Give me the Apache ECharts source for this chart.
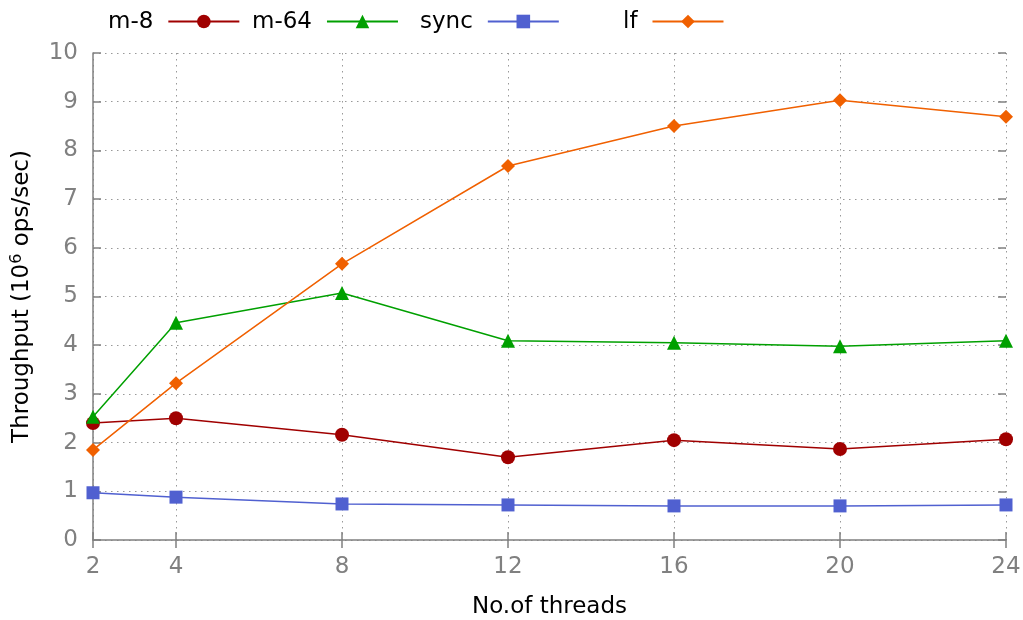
<!DOCTYPE html>
<html><head><meta charset="utf-8">
<script src="https://cdn.jsdelivr.net/npm/echarts@6/dist/echarts.min.js"></script>
<style>html,body{margin:0;padding:0;background:#fff}#c{width:1023px;height:620px}</style>
</head><body><div id="c"></div>
<script>
const threads = [2, 4, 8, 12, 16, 20, 24];
const xTicks = [2, 4, 8, 12, 16, 20, 24];
const m8 = [2.40, 2.50, 2.16, 1.70, 2.05, 1.87, 2.07];
const m64 = [2.53, 4.46, 5.07, 4.09, 4.05, 3.98, 4.09];
const sync = [0.97, 0.88, 0.74, 0.72, 0.70, 0.70, 0.72];
const lf = [1.85, 3.22, 5.67, 7.68, 8.50, 9.03, 8.69];

const F = 'DejaVu Sans';
const gray = '#808080';
const pair = (ys) => threads.map((t, i) => [t, ys[i]]);
const grid = {left: 93, right: 17, top: 53, bottom: 80, containLabel: false, outerBoundsMode: 'none'};
const dot = {color: '#999', width: 1, type: [1.5, 4.5]};

function mkSeries(name, data, color, symbol, size) {
  return {name, type: 'line', data: pair(data), symbol, symbolSize: size,
    lineStyle: {color, width: 1.5}, itemStyle: {color}, animation: false, z: 5};
}
function leg(name, left) {
  return {data: [name], left, top: 11, padding: 0, align: 'right', itemWidth: 71, itemHeight: 17, itemGap: 0,
    formatter: '{t|{name}}',
    textStyle: {fontFamily: F, fontSize: 23, color: '#000', rich: {t: {fontFamily: F, fontSize: 23, color: '#000', padding: [2, 10, 0, 0]}}}};
}

const chart = echarts.init(document.getElementById('c'), null, {renderer: 'canvas'});
chart.setOption({
  backgroundColor: '#fff',
  animation: false,
  grid,
  legend: [leg('m-8', 108), leg('m-64', 252), leg('sync', 420), leg('lf', 623)],
  xAxis: [{
    type: 'value', min: 2, max: 24, position: 'bottom',
    name: 'No.of threads', nameLocation: 'middle', nameGap: 56,
    nameTextStyle: {fontFamily: F, fontSize: 23, color: '#000'},
    axisLine: {show: true, lineStyle: {color: gray, width: 1.5}},
    axisTick: {show: true, inside: true, length: 8, customValues: xTicks, lineStyle: {color: gray, width: 1.5}},
    axisLabel: {customValues: xTicks, fontFamily: F, fontSize: 23, color: gray, margin: 16},
    splitLine: {show: true, lineStyle: dot}
  }, {
    type: 'value', min: 2, max: 24, position: 'top',
    axisLine: {show: false},
    axisTick: {show: true, inside: true, length: 8, customValues: xTicks, lineStyle: {color: gray, width: 1.5}},
    axisLabel: {show: false},
    splitLine: {show: false}
  }],
  yAxis: [{
    type: 'value', min: 0, max: 10, interval: 1, position: 'left',
    name: '{a|Throughput (10}{b|6}{a| ops/sec)}', nameLocation: 'middle', nameGap: 58, nameRotate: 90,
    nameTextStyle: {rich: {a: {fontFamily: F, fontSize: 23, color: '#000'}, b: {fontFamily: F, fontSize: 16, color: '#000', verticalAlign: 'top', padding: [0, 0, 10, 0]}}},
    axisLine: {show: true, lineStyle: {color: gray, width: 1.5}},
    axisTick: {show: true, inside: true, length: 8, lineStyle: {color: gray, width: 1.5}},
    axisLabel: {fontFamily: F, fontSize: 23, color: gray, margin: 15},
    splitLine: {show: true, lineStyle: dot}
  }, {
    type: 'value', min: 0, max: 10, interval: 1, position: 'right',
    axisLine: {show: false},
    axisTick: {show: true, inside: true, length: 8, lineStyle: {color: gray, width: 1.5}},
    axisLabel: {show: false},
    splitLine: {show: false}
  }],
  series: [
    mkSeries('m-8', m8, '#a00000', 'circle', 14),
    mkSeries('m-64', m64, '#00a000', 'triangle', 14),
    mkSeries('sync', sync, '#5060d0', 'rect', 13),
    mkSeries('lf', lf, '#f06000', 'diamond', 14)
  ]
});
</script></body></html>
